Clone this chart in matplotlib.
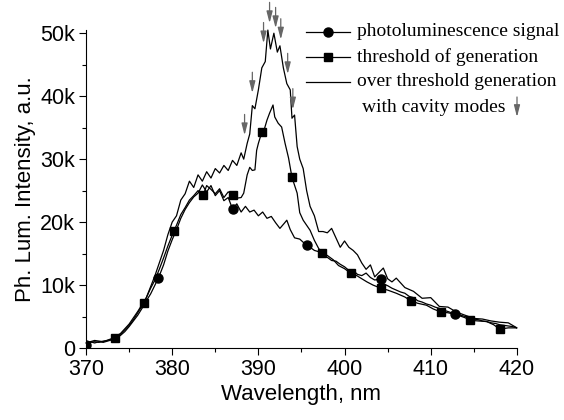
import numpy as np
import matplotlib
matplotlib.use("Agg")
import matplotlib.pyplot as plt
from matplotlib.lines import Line2D
from matplotlib.ticker import MultipleLocator, FuncFormatter

# --- photoluminescence signal (circles) ---
pl_nm = [370, 370.5, 371, 371.5, 372, 372.5, 373, 373.5, 374, 374.5, 375, 375.5, 376, 376.5,
         377, 377.5, 378, 378.4, 379, 379.5, 380, 380.5, 381, 381.5, 382, 382.5, 383, 383.5,
         384, 384.5, 385, 385.5, 386, 386.5, 387, 387.5, 388, 388.5, 389, 389.5, 390, 390.5,
         391, 391.5, 392, 392.5, 393, 393.3, 393.7, 394.2, 394.8, 395.6, 396, 396.5, 397, 397.5,
         398, 398.5, 399, 399.5, 400, 400.7, 401, 401.5, 402, 402.5, 403, 403.5, 404.2, 404.5,
         405, 405.5, 406, 406.5, 407, 407.5, 408, 408.5, 409, 409.5, 410, 410.5, 411, 411.5,
         412, 412.8, 413.5, 414, 414.5, 415, 415.5, 416, 416.5, 417, 417.5, 418, 418.5, 419,
         419.5, 420]
pl_val = [0.5, 1.0, 0.8, 1.0, 0.9, 1.1, 1.3, 1.6, 2.0, 2.6, 3.4, 4.3, 5.2, 6.3,
          7.5, 8.6, 10.0, 11.1, 13.2, 15.4, 17.2, 18.8, 20.6, 22.0, 23.1, 24.0, 24.6, 25.9,
          24.8, 25.8, 24.2, 25.0, 23.4, 23.9, 22.1, 22.9, 21.6, 22.5, 21.6, 21.9, 21.0, 21.6,
          20.6, 20.9, 19.9, 19.0, 19.8, 20.3, 18.8, 17.5, 17.3, 16.3, 16.0, 15.5, 15.3, 14.6,
          14.4, 13.9, 13.8, 13.3, 12.9, 12.1, 12.3, 11.7, 11.5, 11.9, 11.2, 10.8, 11.0, 10.2,
          9.9, 9.5, 9.2, 8.9, 8.7, 8.2, 8.0, 7.5, 7.3, 7.0, 6.8, 6.5, 6.3, 6.0,
          5.8, 5.4, 5.2, 5.0, 4.8, 4.6, 4.5, 4.3, 4.2, 4.0, 3.9, 3.7, 3.6, 3.5,
          3.4, 3.2]
pl_marks = [370, 378.4, 387, 395.6, 404.2, 412.8]

# --- threshold of generation (squares) ---
th_nm = [370, 370.5, 371, 371.5, 372, 372.5, 373, 373.4, 374, 374.5, 375, 375.5, 376, 376.7,
         377, 377.5, 378, 378.5, 379, 379.5, 380.2, 380.5, 381, 381.5, 382, 382.5, 383, 383.6,
         384, 384.5, 385, 385.5, 386, 386.5, 387.1, 387.5, 388, 388.3, 388.7, 389, 389.3, 389.6,
         389.8, 390, 390.4, 390.7, 391, 391.3, 391.7, 391.9, 392.3, 392.7, 393.1, 393.5, 393.9,
         394.5, 394.8, 395.2, 395.6, 396, 396.5, 397, 397.4, 398, 398.7, 399.3, 400, 400.7,
         401.3, 402, 402.6, 403.3, 404.2, 405, 406, 407, 407.7, 408.5, 409.5, 410.3, 411.2,
         412, 413, 414, 414.6, 415.5, 416.5, 417.3, 418, 419, 420]
th_val = [0.5, 0.9, 1.0, 0.9, 1.1, 1.2, 1.4, 1.6, 2.2, 2.9, 3.6, 4.5, 5.6, 7.1,
          8.0, 9.5, 10.8, 12.5, 14.3, 16.2, 18.6, 19.5, 21.2, 22.3, 23.5, 24.2, 25.0, 24.3,
          25.8, 25.2, 24.5, 25.3, 23.9, 24.8, 24.3, 23.8, 23.9, 24.6, 27.5, 28.7, 28.2, 28.3,
          31.4, 32.5, 34.3, 34.8, 36.2, 37.3, 38.6, 36.7, 35.7, 35.1, 32.5, 30.2, 27.1,
          24.6, 21.5, 20.3, 19.5, 18.7, 17.1, 15.8, 15.1, 14.7, 14.0, 13.1, 12.6, 11.9,
          11.6, 11.0, 10.5, 10.0, 9.5, 9.2, 8.7, 8.1, 7.5, 7.1, 6.8, 6.2, 5.7,
          5.6, 5.3, 4.8, 4.4, 4.3, 4.2, 3.7, 3.0, 3.2, 3.2]
th_marks = [373.4, 376.7, 380.2, 383.6, 387.1, 390.4, 393.9, 397.4, 400.7, 404.2,
            407.7, 411.2, 414.6, 418]

# --- over threshold generation with cavity modes ---
ov_nm = [370, 371, 372, 373, 374, 375, 376, 377, 378, 378.5, 379, 379.5, 380, 380.5, 381,
         381.5, 382, 382.5, 383, 383.5, 384, 384.5, 385, 385.5, 386, 386.5, 387, 387.5, 388,
         388.3, 388.7, 389, 389.3, 389.6, 390, 390.4, 390.8, 391.1, 391.4, 391.8, 392.2, 392.5,
         392.9, 393.3, 393.7, 393.9, 394.2, 394.5, 394.8, 395.2, 395.6, 396, 396.5, 397, 397.5,
         398, 398.5, 399, 399.5, 400, 400.5, 401, 401.5, 402, 402.5, 403, 403.5, 404, 404.5,
         405, 405.5, 406, 407, 408, 409, 410, 411, 412, 413, 414, 415, 416, 417, 418, 419, 420]
ov_val = [0.8, 1.2, 1.0, 1.5, 2.3, 3.8, 5.8, 8.0, 11.5, 13.5, 15.5, 18.0, 20.0, 21.0, 23.5,
          24.5, 26.5, 25.5, 27.5, 26.5, 28.0, 27.0, 28.5, 27.8, 29.0, 28.2, 29.8, 29.0, 31.0,
          30.0, 32.5, 34.0, 38.5, 38.0, 41.0, 44.5, 45.5, 50.5, 47.5, 50.0, 47.0, 48.0,
          44.5, 42.0, 41.0, 36.5, 37.0, 32.0, 30.0, 28.5, 25.0, 22.5, 21.0, 18.5, 18.5,
          18.3, 19.0, 17.5, 16.0, 17.0, 16.0, 15.5, 14.8, 13.5, 12.5, 13.2, 11.3, 12.0, 12.7,
          11.0, 10.5, 11.1, 9.6, 9.0, 7.9, 8.0, 6.6, 6.5, 5.7, 5.2, 4.7, 4.6, 4.3, 4.1, 4.0, 3.2]

# cavity mode arrows: position and arrow tip height (k)
mode_nm = [388.4, 389.3, 390.6, 391.3, 392.0, 392.6, 393.4, 394.0]
mode_tip = [33.8, 40.5, 48.4, 51.6, 50.8, 49.0, 43.5, 37.9]

plt.rcParams['font.family'] = ['Liberation Sans', 'DejaVu Sans']

fig = plt.figure(figsize=(5.64, 4.2), dpi=100)
ax = fig.add_axes([0.1525, 0.1714, 0.764, 0.757])

pl_idx = [pl_nm.index(m) for m in pl_marks]
th_idx = [th_nm.index(m) for m in th_marks]
ax.plot(pl_nm, pl_val, color='black', lw=0.9, marker='o', ms=6.5, markevery=pl_idx)
ax.plot(th_nm, th_val, color='black', lw=0.9, marker='s', ms=5.5, markevery=th_idx)
ax.plot(ov_nm, ov_val, color='black', lw=0.9, clip_on=False)

arrow_kw = dict(arrowstyle='-|>,head_length=0.7,head_width=0.18', color='0.4', lw=0.9,
                mutation_scale=10, shrinkA=0, shrinkB=0)
for x, tip in zip(mode_nm, mode_tip):
    ax.annotate('', xy=(x, tip), xytext=(x, tip + 3.3), arrowprops=arrow_kw,
                annotation_clip=False)

ax.set_xlim(370, 420)
ax.set_ylim(0, 50.5)
ax.xaxis.set_major_locator(MultipleLocator(10))
ax.xaxis.set_minor_locator(MultipleLocator(5))
ax.yaxis.set_major_locator(MultipleLocator(10))
ax.yaxis.set_minor_locator(MultipleLocator(5))
ax.yaxis.set_major_formatter(FuncFormatter(lambda v, p: '0' if v == 0 else f'{int(v)}k'))
ax.tick_params(which='both', direction='out', labelsize=15.5, width=0.8, pad=3)
ax.tick_params(which='major', length=5)
ax.tick_params(which='minor', length=3)
ax.spines['top'].set_visible(False)
ax.spines['right'].set_visible(False)
ax.set_xlabel('Wavelength, nm', fontsize=16, labelpad=3)
ax.set_ylabel('Ph. Lum. Intensity, a.u.', fontsize=16, labelpad=3)

# legend, drawn row by row (pixel positions from the top-left of the figure)
W, H = 564, 420
legend_rows = [('photoluminescence signal', 'o', 6.5),
               ('threshold of generation', 's', 5.5),
               ('over threshold generation', '', 0)]
for i, (text, mk, size) in enumerate(legend_rows):
    y = 1 - (32 + 25 * i) / H
    fig.add_artist(Line2D([306 / W, 350 / W], [y, y], color='black', lw=0.9))
    if mk:
        fig.add_artist(Line2D([328 / W], [y], color='black', marker=mk, ms=size, ls='none'))
    fig.text(357 / W, y, text, family='Liberation Serif', fontsize=14, va='center')
fig.text(362 / W, 1 - 107 / H, 'with cavity modes', family='Liberation Serif',
         fontsize=14, va='center')
ax.annotate('', xy=(517 / W, 1 - 117 / H), xytext=(517 / W, 1 - 97 / H),
            xycoords='figure fraction', arrowprops=arrow_kw)

fig.savefig('out.png', dpi=100)
